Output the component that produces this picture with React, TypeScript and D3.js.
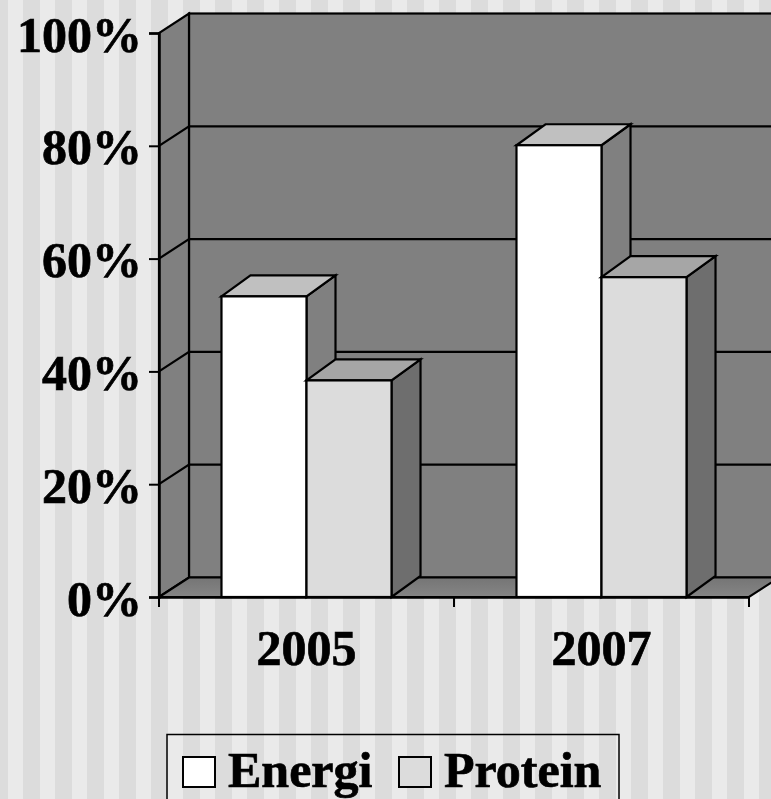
import React, { useEffect, useRef } from "react";
import * as d3 from "d3";

const categories = ["2005", "2007"];
const seriesNames = ["Energi", "Protein"];
const energi = [53.3, 80.1];
const protein = [38.4, 56.7];
const yTicks = [0, 20, 40, 60, 80, 100];

const font = "'Liberation Serif', 'Times New Roman', serif";

export default function App() {
  const ref = useRef<SVGSVGElement>(null);

  useEffect(() => {
    const width = 771,
      height = 799;
    const svg = d3.select(ref.current);
    svg.selectAll("*").remove();

    // striped page background
    svg.append("rect").attr("width", width).attr("height", height).attr("fill", "#eaeaea");
    svg
      .selectAll("rect.stripe")
      .data(d3.range(-9, width, 32))
      .enter()
      .append("rect")
      .attr("class", "stripe")
      .attr("x", (d) => d)
      .attr("width", 17)
      .attr("height", height)
      .attr("fill", "#dcdcdc");

    // depth of the 3d box
    const depthX = 30,
      depthY = -19.5;
    const barDepthX = 29,
      barDepthY = -21;

    const x = d3.scaleBand().domain(categories).range([159, 749]);
    const y = d3.scaleLinear().domain([0, 100]).range([597, 33]);
    const inner = d3
      .scaleBand()
      .domain(seriesNames)
      .range([0, x.bandwidth()])
      .paddingInner(0)
      .paddingOuter(0.735);

    const line = (pts: number[][]) => d3.line()(pts as [number, number][]) + "Z";

    const x0 = x.range()[0],
      x1 = x.range()[1];

    const defs = svg.append("defs");
    const floorGrad = defs
      .append("linearGradient")
      .attr("id", "floorGrad")
      .attr("x1", 0)
      .attr("y1", 0)
      .attr("x2", 0)
      .attr("y2", 1);
    floorGrad.append("stop").attr("offset", "0%").attr("stop-color", "#757575");
    floorGrad.append("stop").attr("offset", "100%").attr("stop-color", "#858585");

    const plot = svg.append("g").attr("stroke", "#000").attr("stroke-width", 2.2).attr("stroke-linejoin", "miter");

    // back wall
    plot
      .append("rect")
      .attr("x", x0 + depthX)
      .attr("y", y(100) + depthY)
      .attr("width", x1 - x0)
      .attr("height", y(0) - y(100))
      .attr("fill", "#808080");

    // side wall
    plot
      .append("path")
      .attr(
        "d",
        line([
          [x0, y(0)],
          [x0, y(100)],
          [x0 + depthX, y(100) + depthY],
          [x0 + depthX, y(0) + depthY],
        ])
      )
      .attr("fill", "#808080");

    // floor
    plot
      .append("path")
      .attr(
        "d",
        line([
          [x0, y(0)],
          [x1, y(0)],
          [x1 + depthX, y(0) + depthY],
          [x0 + depthX, y(0) + depthY],
        ])
      )
      .attr("fill", "url(#floorGrad)");

    // gridlines on side and back wall
    plot
      .selectAll("path.grid")
      .data(yTicks.filter((d) => d > 0 && d < 100))
      .enter()
      .append("path")
      .attr("class", "grid")
      .attr("fill", "none")
      .attr("d", (d) =>
        d3.line()([
          [x0, y(d)],
          [x0 + depthX, y(d) + depthY],
          [x1 + depthX, y(d) + depthY],
        ])
      );

    // bars
    const rows = categories.flatMap((c, i) => [
      { c, s: seriesNames[0], v: energi[i], front: "#ffffff", top: "#c0c0c0", side: "#808080" },
      { c, s: seriesNames[1], v: protein[i], front: "#dcdcdc", top: "#a6a6a6", side: "#6e6e6e" },
    ]);
    const bars = plot.selectAll("g.bar").data(rows).enter().append("g").attr("class", "bar");
    const left = (d: any) => (x(d.c) as number) + (inner(d.s) as number);
    const right = (d: any) => left(d) + inner.bandwidth();
    bars
      .append("path")
      .attr("fill", (d) => d.side)
      .attr("d", (d) =>
        line([
          [right(d), y(0)],
          [right(d), y(d.v)],
          [right(d) + barDepthX, y(d.v) + barDepthY],
          [right(d) + barDepthX, y(0) + barDepthY],
        ])
      );
    bars
      .append("path")
      .attr("fill", (d) => d.top)
      .attr("d", (d) =>
        line([
          [left(d), y(d.v)],
          [right(d), y(d.v)],
          [right(d) + barDepthX, y(d.v) + barDepthY],
          [left(d) + barDepthX, y(d.v) + barDepthY],
        ])
      );
    bars
      .append("rect")
      .attr("fill", (d) => d.front)
      .attr("x", left)
      .attr("y", (d) => y(d.v))
      .attr("width", inner.bandwidth())
      .attr("height", (d) => y(0) - y(d.v));

    // y axis
    const yAxis = svg
      .append("g")
      .attr("transform", `translate(${x0},0)`)
      .call(
        d3
          .axisLeft(y)
          .tickValues(yTicks)
          .tickSize(10)
          .tickPadding(7)
          .tickFormat((d) => d + "%")
      );
    // x axis, labels centred in the band
    const xAxis = svg
      .append("g")
      .attr("transform", `translate(0,${y(0)})`)
      .call(d3.axisBottom(x).tickSize(0).tickPadding(32));
    xAxis
      .selectAll("line.edge")
      .data([x0, (x(categories[1]) as number), x1])
      .enter()
      .append("line")
      .attr("class", "edge")
      .attr("x1", (d) => d)
      .attr("x2", (d) => d)
      .attr("y2", 10);
    [yAxis, xAxis].forEach((a) => {
      a.selectAll("path.domain").attr("stroke", "#000").attr("stroke-width", 2.5);
      a.selectAll("line").attr("stroke", "#000").attr("stroke-width", 2);
      a.selectAll("text")
        .attr("font-family", font)
        .attr("font-weight", "bold")
        .attr("font-size", 50)
        .attr("fill", "#000")
        .attr("stroke", "#000")
        .attr("stroke-width", 0.7);
    });
    yAxis.selectAll("text").attr("dy", "0.36em");
    xAxis.selectAll("text").attr("dy", "0.71em");

    // legend
    const legend = svg.append("g");
    legend
      .append("rect")
      .attr("x", 167)
      .attr("y", 734.5)
      .attr("width", 452)
      .attr("height", 80)
      .attr("fill", "none")
      .attr("stroke", "#000")
      .attr("stroke-width", 1.5);
    const legendX = d3.scalePoint().domain(seriesNames).range([183, 399]);
    const items = legend
      .selectAll("g.item")
      .data(seriesNames)
      .enter()
      .append("g")
      .attr("class", "item")
      .attr("transform", (d) => `translate(${legendX(d)},757)`);
    items
      .append("rect")
      .attr("width", 32)
      .attr("height", 30)
      .attr("fill", (d, i) => (i === 0 ? "#ffffff" : "#dcdcdc"))
      .attr("stroke", "#000")
      .attr("stroke-width", 2);
    items
      .append("text")
      .attr("x", 45)
      .attr("y", 30)
      .attr("font-family", font)
      .attr("font-weight", "bold")
      .attr("font-size", 50)
      .attr("stroke", "#000")
      .attr("stroke-width", 0.7)
      .text((d) => d);
  }, []);

  return (
    <svg
      ref={ref}
      width={771}
      height={799}
      style={{ position: "absolute", left: 0, top: 0, display: "block" }}
    />
  );
}
